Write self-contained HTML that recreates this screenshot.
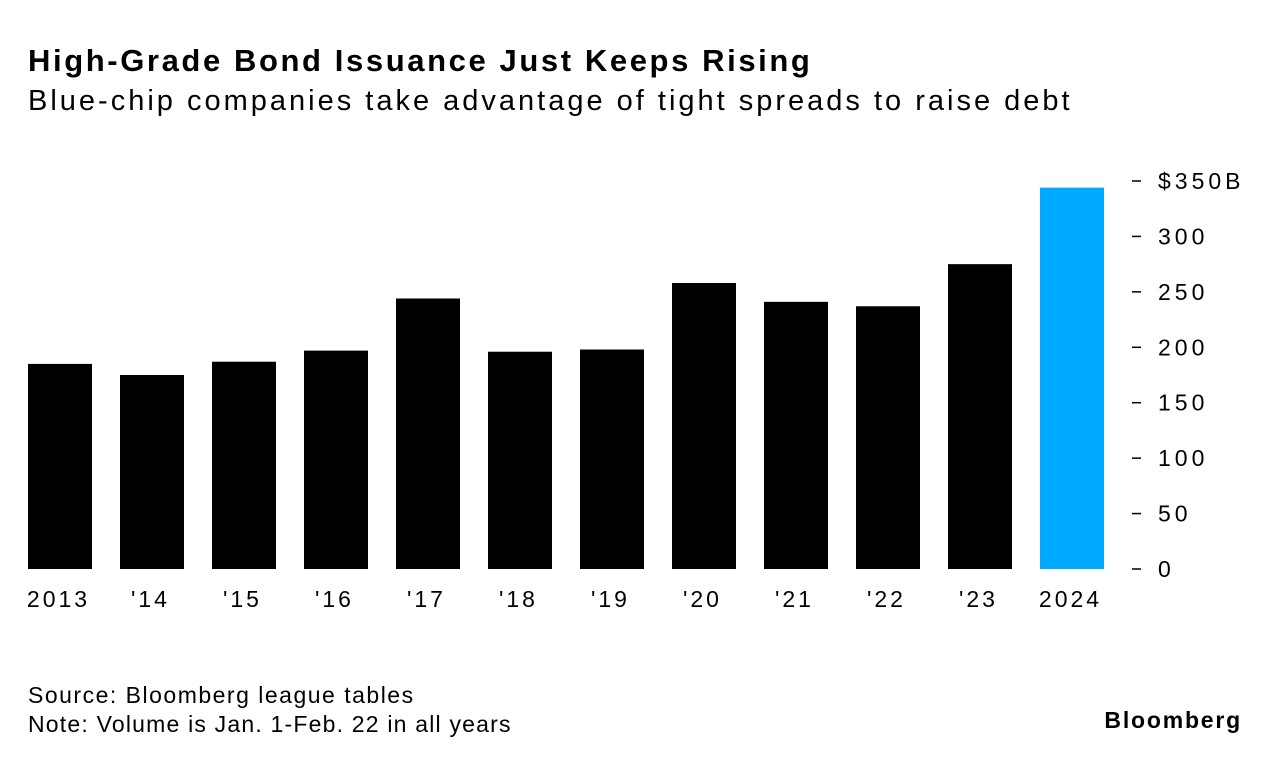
<!DOCTYPE html>
<html><head><meta charset="utf-8"><style>
body{margin:0;background:#fff;font-family:"Liberation Sans",sans-serif;color:#000}
#wrap{position:relative;width:1279px;height:764px;overflow:hidden}
.t{position:absolute;white-space:nowrap}
</style></head><body><div id="wrap">
<div class="t" style="left:28px;top:43px;font-size:31px;font-weight:bold;letter-spacing:2.6px">High-Grade Bond Issuance Just Keeps Rising</div>
<div class="t" style="left:28px;top:85px;font-size:29px;letter-spacing:3px">Blue-chip companies take advantage of tight spreads to raise debt</div>
<svg id="chart" width="1279" height="764" style="position:absolute;left:0;top:0"></svg>
<div class="t" style="left:28px;top:682px;font-size:23px;letter-spacing:1.5px">Source: Bloomberg league tables</div>
<div class="t" style="left:28px;top:711px;font-size:23px;letter-spacing:1.2px">Note: Volume is Jan. 1-Feb. 22 in all years</div>
<div class="t" style="right:37px;top:707px;font-size:23px;font-weight:bold;letter-spacing:1.8px">Bloomberg</div>
</div>
<script>
const categories=["2013","'14","'15","'16","'17","'18","'19","'20","'21","'22","'23","2024"];
const values=[185,175,187,197,244,196,198,258,241,237,275,344];
const tickValues=[0,50,100,150,200,250,300,350];
const tickLabels=["0","50","100","150","200","250","300","$350B"];
const svg=document.getElementById('chart');
const NS="http://www.w3.org/2000/svg";
const y0=569,scale=(569-181)/350;
function y(v){return y0-v*scale;}
function x(i){return 28+i*92;}
const bw=64;
categories.forEach((c,i)=>{
  const r=document.createElementNS(NS,'rect');
  r.setAttribute('x',x(i));r.setAttribute('y',y(values[i]));
  r.setAttribute('width',bw);r.setAttribute('height',y0-y(values[i]));
  r.setAttribute('fill',i===categories.length-1?'#00aaff':'#000');
  
  
  svg.appendChild(r);
  const t=document.createElementNS(NS,'text');
  t.setAttribute('x',x(i)+bw/2-1.5);t.setAttribute('y',607);
  t.setAttribute('text-anchor','middle');t.setAttribute('font-size','23');
  t.setAttribute('letter-spacing','3');
  t.setAttribute('font-family','Liberation Sans, sans-serif');
  t.textContent=c;
  
  
  svg.appendChild(t);
});
tickValues.forEach((v,i)=>{
  const l=document.createElementNS(NS,'line');
  l.setAttribute('x1',1132);l.setAttribute('x2',1141);
  l.setAttribute('y1',y(v));l.setAttribute('y2',y(v));
  l.setAttribute('stroke','#000');l.setAttribute('stroke-width','1.5');
  
  
  svg.appendChild(l);
  const t=document.createElementNS(NS,'text');
  t.setAttribute('x',1158);t.setAttribute('y',y(v)+8);
  t.setAttribute('font-size','23');
  t.setAttribute('letter-spacing','4');
  t.setAttribute('font-family','Liberation Sans, sans-serif');
  t.textContent=tickLabels[i];
  
  
  svg.appendChild(t);
});
</script></body></html>
